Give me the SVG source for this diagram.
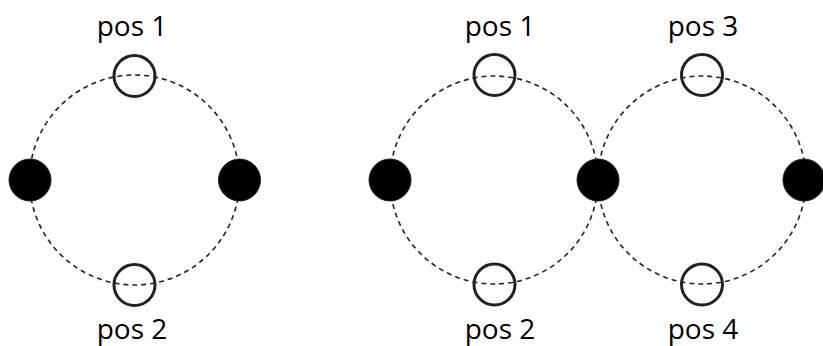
<svg xmlns="http://www.w3.org/2000/svg" width="823" height="346" viewBox="0 0 823 346">
<style>
.orbit{fill:none;stroke:#222;stroke-width:1.6;stroke-dasharray:5 4}
.hole{fill:none;stroke:#222;stroke-width:3}
.atom{fill:#000;stroke:#222;stroke-width:1}
.lbl{font-family:"Open Sans","Liberation Sans",sans-serif;font-size:28px;fill:#000;text-anchor:middle}
</style>
<rect width="823" height="346" fill="#fff"/>
<g id="connectors">
<circle class="orbit" cx="134.5" cy="180" r="105"/>
<circle class="orbit" cx="494" cy="180" r="104"/>
<circle class="orbit" cx="702" cy="180" r="104"/>
</g>
<g id="atomL1"><circle class="atom" cx="30" cy="180" r="21"/></g>
<g id="atomL2"><circle class="atom" cx="239.5" cy="180" r="21"/></g>
<g id="pos1L"><circle class="hole" cx="134.5" cy="76" r="20.5"/><text class="lbl" x="132" y="36">pos 1</text></g>
<g id="pos2L"><circle class="hole" cx="134.5" cy="285" r="20.5"/><text class="lbl" x="132" y="339">pos 2</text></g>
<g id="atomR1"><circle class="atom" cx="390" cy="180" r="21"/></g>
<g id="atomR2"><circle class="atom" cx="598" cy="180" r="21"/></g>
<g id="atomR3"><circle class="atom" cx="804" cy="180" r="21"/></g>
<g id="pos1R"><circle class="hole" cx="494.5" cy="75" r="20.5"/><text class="lbl" x="500" y="36">pos 1</text></g>
<g id="pos2R"><circle class="hole" cx="494.5" cy="284.5" r="20.5"/><text class="lbl" x="500" y="339">pos 2</text></g>
<g id="pos3"><circle class="hole" cx="702" cy="75" r="20.5"/><text class="lbl" x="703" y="36">pos 3</text></g>
<g id="pos4"><circle class="hole" cx="702" cy="284.5" r="20.5"/><text class="lbl" x="703" y="339">pos 4</text></g>
</svg>
